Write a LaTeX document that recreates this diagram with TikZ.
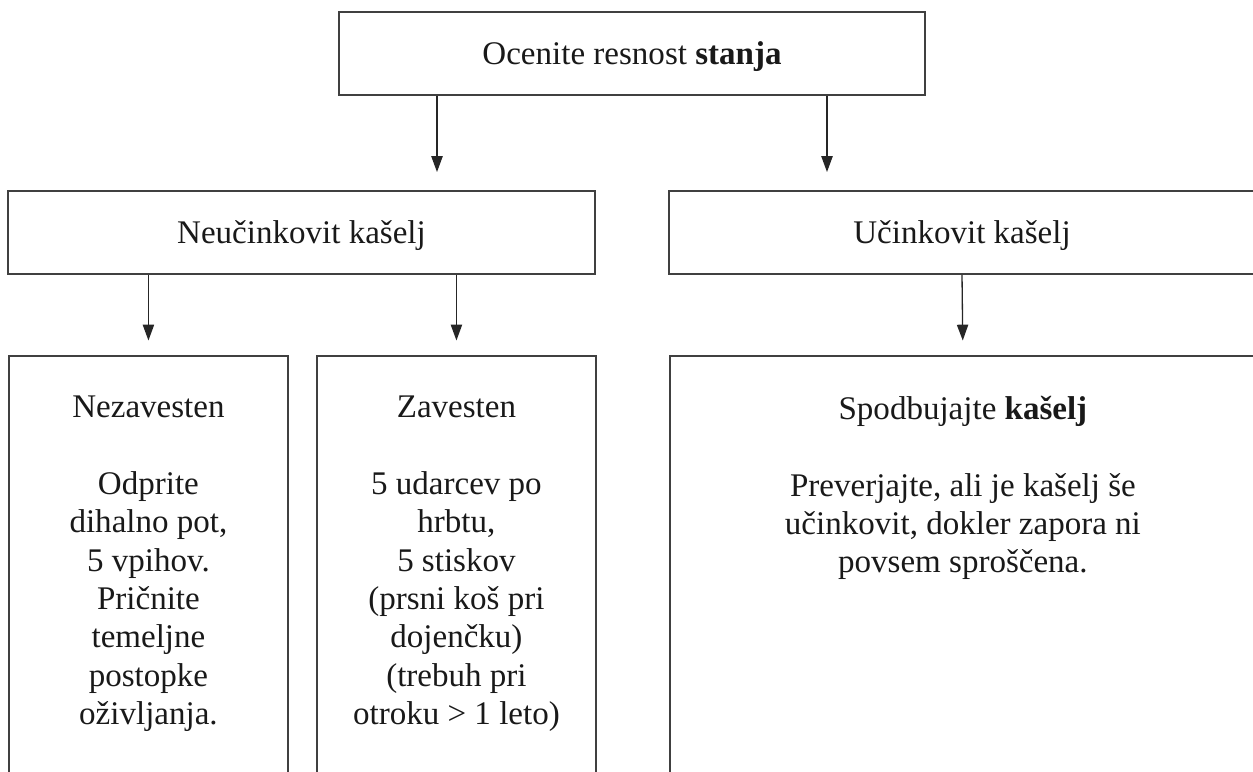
\documentclass[tikz,border=0pt]{standalone}
\usepackage{fontspec}
\setmainfont{Liberation Serif}
\usetikzlibrary{arrows.meta, positioning}
\tikzstyle{block} = [rectangle, line width=1.1pt, draw=black!75, text=black!90, inner sep=0pt, text height=12.4pt, text depth=0pt, font=\fontsize{18.8}{21.8}\selectfont]
\tikzstyle{openblock} = [rectangle, line width=1.1pt, draw=black!75, inner sep=0pt, anchor=north west, minimum height=9cm]
\tikzstyle{boxtext} = [align=center, inner sep=0pt, text=black!90, font=\fontsize{18.8}{21.8}\selectfont]
\tikzstyle{arrow} = [line width=0.75pt, draw=black!85, -{Triangle[length=9pt, width=6.4pt]}]

\begin{document}
\begin{tikzpicture}[x=0.02cm, y=-0.02cm]
	\useasboundingbox (0,0) rectangle (1253,771);
	\node (Assess) [block, minimum width=11.72cm, minimum height=1.66cm] at (632,53.5) {Ocenite resnost \textbf{stanja}};
	\node (Ineffective) [block, minimum width=11.74cm, minimum height=1.66cm] at (301.5,232.5) {Neučinkovit kašelj};
	\node (Effective) [block, minimum width=11.72cm, minimum height=1.66cm] at (962,232.5) {Učinkovit kašelj};
	\node (Unconscious) [openblock, minimum width=5.58cm] at (8,355) {};
	\node (Conscious) [openblock, minimum width=5.58cm] at (316,355) {};
	\node (Encourage) [openblock, minimum width=11.72cm] at (669,355) {};
	\node (UnconsciousText) [boxtext, below = 0.82cm of Unconscious.north] {Nezavesten\\[21.8pt]Odprite\\dihalno pot,\\5 vpihov.\\Pričnite\\temeljne\\postopke\\oživljanja.};
	\node (ConsciousText) [boxtext, below = 0.82cm of Conscious.north] {Zavesten\\[21.8pt]5 udarcev po\\hrbtu,\\5 stiskov\\(prsni koš pri\\dojenčku)\\(trebuh pri\\otroku > 1 leto)};
	\node (EncourageText) [boxtext, below = 0.82cm of Encourage.north] {Spodbujajte \textbf{kašelj}\\[21.8pt]Preverjajte, ali je kašelj še\\učinkovit, dokler zapora ni\\povsem sproščena.};
	\coordinate (LeftDrop) at (437,0);
	\coordinate (RightDrop) at (827,0);
	\draw [arrow, shorten >=0.36cm] (Assess.south -| LeftDrop) -- (Ineffective.north -| LeftDrop);
	\draw [arrow, shorten >=0.36cm] (Assess.south -| RightDrop) -- (Effective.north -| RightDrop);
	\draw [arrow, shorten >=0.29cm] (Ineffective.south -| Unconscious.north) -- (Unconscious.north);
	\draw [arrow, shorten >=0.29cm] (Ineffective.south -| Conscious.north) -- (Conscious.north);
	\draw [arrow, shorten >=0.29cm] (Effective.south) -- (Encourage.north);
\end{tikzpicture}
\end{document}
